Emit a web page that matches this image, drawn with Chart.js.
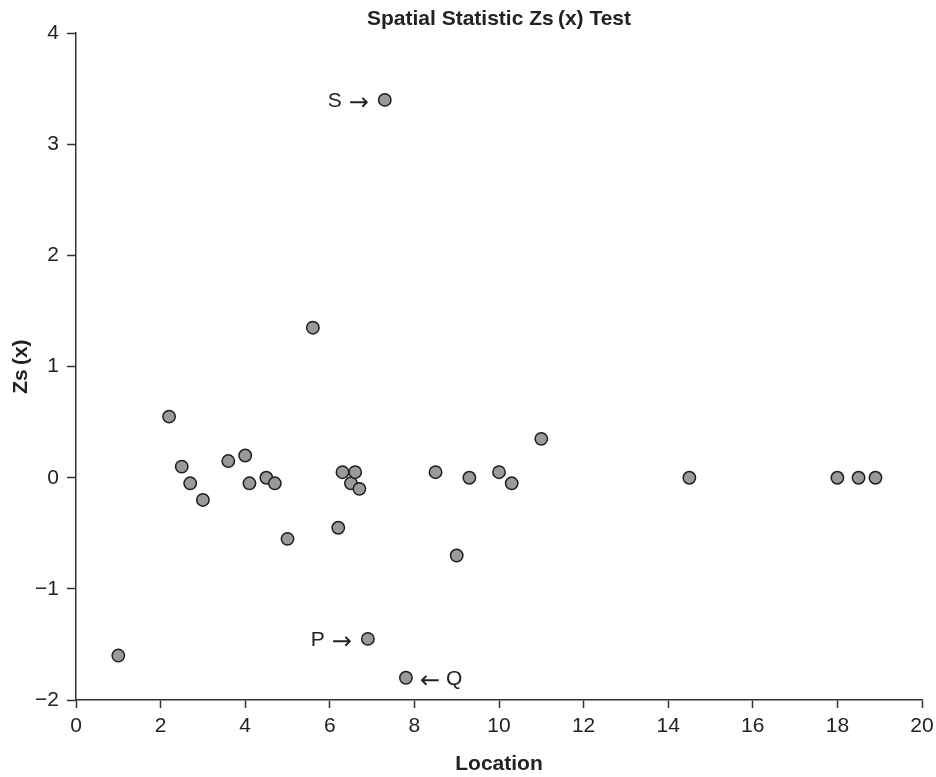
<!DOCTYPE html>
<html>
<head>
<meta charset="utf-8">
<script src="https://cdn.jsdelivr.net/npm/chart.js@4.4.1/dist/chart.umd.min.js"></script>
<style>
    html, body { margin: 0; padding: 0; background: #fff; }
    #wrap { width: 936px; height: 777px; }
</style>
</head>
<body>
<div id="wrap"><canvas id="zs-chart" width="936" height="777"></canvas></div>
<script>
// location and Zs(x)
var location_values = [1.0, 2.2, 2.5, 2.7, 3.0, 3.6, 4.0, 4.1, 4.5, 4.7, 5.0, 5.6, 6.2, 6.3, 6.5, 6.6, 6.7, 6.9, 7.3, 7.8, 8.5, 9.0, 9.3, 10.0, 10.3, 11.0, 14.5, 18.0, 18.5, 18.9];
var zs_values = [-1.6, 0.55, 0.1, -0.05, -0.2, 0.15, 0.2, -0.05, 0.0, -0.05, -0.55, 1.35, -0.45, 0.05, -0.05, 0.05, -0.1, -1.45, 3.4, -1.8, 0.05, -0.7, 0.0, 0.05, -0.05, 0.35, 0.0, 0.0, 0.0, 0.0];

// labelled points: index into the arrays above, letter, side of the point
var marker_index = [18, 17, 19];
var marker_letter = ['S', 'P', 'Q'];
var marker_side = ['left', 'left', 'right'];

var x_ticks = [0, 2, 4, 6, 8, 10, 12, 14, 16, 18, 20];
var y_ticks = [-2, -1, 0, 1, 2, 3, 4];

var FONT = '"Liberation Sans", Arial, Helvetica, sans-serif';
var ARROW_FONT = '24px "DejaVu Sans", sans-serif';
var LETTER_FONT = '21px ' + FONT;

var points = [];
for (var i = 0; i < location_values.length; i++) {
    points.push({ x: location_values[i], y: zs_values[i] });
}

// "S ->", "P ->", "<- Q" next to their points
var markerLabels = {
    id: 'markerLabels',
    afterDatasetsDraw: function (chart) {
        var ctx = chart.ctx;
        var meta = chart.getDatasetMeta(0);
        ctx.save();
        ctx.fillStyle = '#222';
        ctx.textBaseline = 'middle';
        for (var k = 0; k < marker_index.length; k++) {
            var el = meta.data[marker_index[k]];
            var y = el.y + 1;
            if (marker_side[k] === 'left') {
                ctx.textAlign = 'right';
                ctx.font = ARROW_FONT;
                var ax = el.x - 16;
                ctx.fillText('\u2192', ax, y + 3);
                var aw = ctx.measureText('\u2192').width;
                ctx.font = LETTER_FONT;
                ctx.fillText(marker_letter[k], ax - aw - 7, y);
            } else {
                ctx.textAlign = 'left';
                ctx.font = ARROW_FONT;
                var bx = el.x + 14;
                ctx.fillText('\u2190', bx, y + 3);
                var bw = ctx.measureText('\u2190').width;
                ctx.font = LETTER_FONT;
                ctx.fillText(marker_letter[k], bx + bw + 6, y);
            }
        }
        ctx.restore();
    }
};

var ctx = document.getElementById('zs-chart');
var ZsChart = new Chart(ctx, {
    type: 'scatter',
    data: {
        datasets: [{
            label: 'Zs(x)',
            data: points,
            backgroundColor: '#9a9a9a',
            borderColor: '#1e1e1e',
            borderWidth: 1.5,
            pointRadius: 6.2,
            pointHoverRadius: 6.2
        }]
    },
    plugins: [markerLabels],
    options: {
        responsive: false,
        animation: false,
        events: [],
        layout: {
            padding: { left: 0, right: 14, top: 0, bottom: 0 }
        },
        plugins: {
            legend: { display: false },
            tooltip: { enabled: false },
            title: {
                display: true,
                text: 'Spatial Statistic Zs\u2009(x) Test',
                fullSize: false,
                color: '#222',
                font: { family: FONT, size: 21, weight: 'bold' },
                padding: { top: 7, bottom: 1 }
            }
        },
        scales: {
            x: {
                type: 'linear',
                min: 0,
                max: 20,
                afterBuildTicks: function (scale) {
                    scale.ticks = x_ticks.map(function (v) { return { value: v }; });
                },
                afterFit: function (scale) {
                    scale.height = 77;
                    scale.paddingLeft = 0;
                    scale.paddingRight = 0;
                },
                grid: {
                    drawOnChartArea: false,
                    drawTicks: true,
                    tickLength: 8,
                    tickColor: '#333',
                    tickWidth: 1.5
                },
                border: { display: true, color: '#333', width: 1.5 },
                ticks: {
                    color: '#222',
                    padding: 6,
                    maxRotation: 0,
                    font: { family: FONT, size: 21 }
                },
                title: {
                    display: true,
                    text: 'Location',
                    color: '#222',
                    font: { family: FONT, size: 21, weight: 'bold' },
                    padding: { top: 10, bottom: 0 }
                }
            },
            y: {
                type: 'linear',
                min: -2,
                max: 4,
                afterBuildTicks: function (scale) {
                    scale.ticks = y_ticks.map(function (v) { return { value: v }; });
                },
                afterFit: function (scale) {
                    scale.width = 76;
                    scale.paddingTop = 0;
                    scale.paddingBottom = 0;
                },
                grid: {
                    drawOnChartArea: false,
                    drawTicks: true,
                    tickLength: 9,
                    tickColor: '#333',
                    tickWidth: 1.5
                },
                border: { display: true, color: '#333', width: 1.5 },
                ticks: {
                    color: '#222',
                    padding: 8,
                    font: { family: FONT, size: 21 },
                    callback: function (value) {
                        return String(value).replace('-', '\u2212');
                    }
                },
                title: {
                    display: true,
                    text: 'Zs\u2009(x)',
                    color: '#222',
                    font: { family: FONT, size: 21, weight: 'bold' },
                    padding: { top: 9, bottom: 0 }
                }
            }
        }
    }
});
</script>
</body>
</html>
